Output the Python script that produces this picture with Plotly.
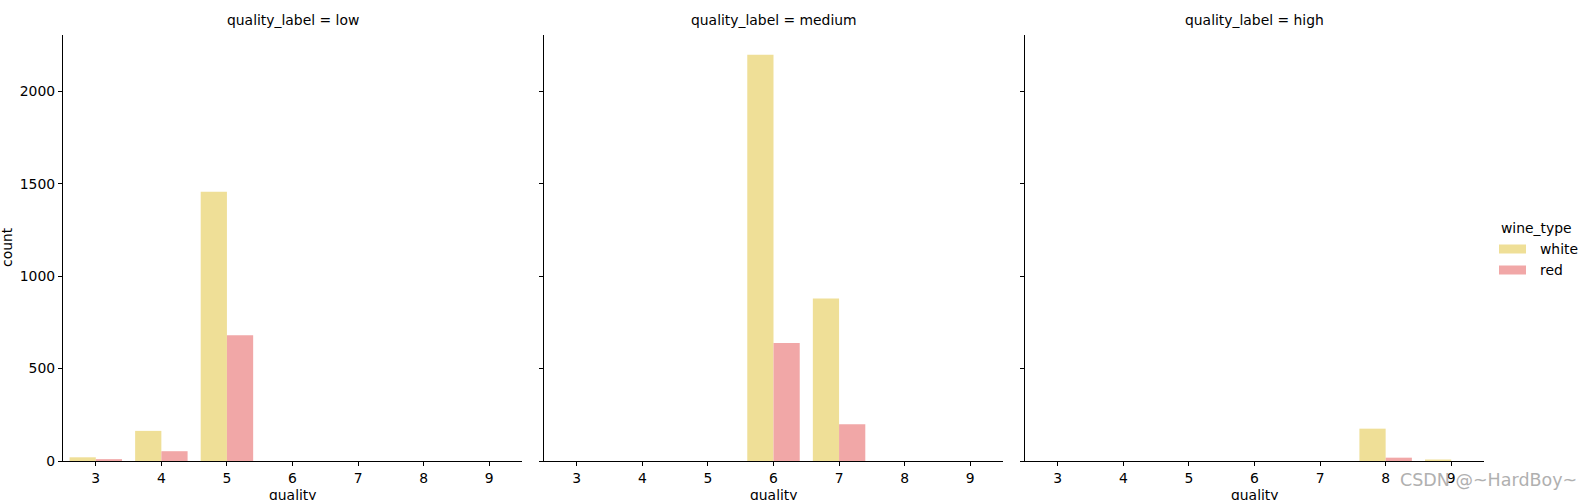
import plotly.graph_objects as go

qualities = ["3", "4", "5", "6", "7", "8", "9"]
panels = ["low", "medium", "high"]
wine_types = ["white", "red"]

# counts per panel for each wine type, ordered as qualities
white_low = [20, 163, 1457, 0, 0, 0, 0]
red_low = [10, 53, 681, 0, 0, 0, 0]
white_medium = [0, 0, 0, 2198, 880, 0, 0]
red_medium = [0, 0, 0, 638, 199, 0, 0]
white_high = [0, 0, 0, 0, 0, 175, 5]
red_high = [0, 0, 0, 0, 0, 18, 0]

yticks = [0, 500, 1000, 1500, 2000]

colors = {"white": "#EFDF97", "red": "#F1A7A7"}
data = {
    "low": {"white": white_low, "red": red_low},
    "medium": {"white": white_medium, "red": red_medium},
    "high": {"white": white_high, "red": red_high},
}

W, H = 1588, 500


def px(x):
    return x / W


def py(y):
    return 1 - y / H


xdoms = [(63, 522), (544, 1003), (1025, 1484)]
ytop, ybot = 34.5, 461
ymax = max(white_medium) * 1.05

fig = go.Figure()
font = dict(family="DejaVu Sans", size=13.9, color="black")

for i, p in enumerate(panels):
    ax = "" if i == 0 else str(i + 1)
    for wt in wine_types:
        fig.add_trace(go.Bar(
            x=qualities, y=data[p][wt], name=wt,
            marker=dict(color=colors[wt], line=dict(width=0)),
            xaxis="x" + ax, yaxis="y" + ax,
            offsetgroup=wt, legendgroup=wt, showlegend=False,
        ))
    x0, x1 = xdoms[i]
    fig.update_layout(**{
        "xaxis" + ax: dict(
            domain=[px(x0), px(x1)], anchor="y" + ax, type="category",
            categoryorder="array", categoryarray=qualities,
            range=[-0.5, 6.5], showline=True, linecolor="black", linewidth=1.2,
            ticks="outside", ticklen=4, tickcolor="black", showgrid=False,
            zeroline=False, tickfont=font, automargin=False,
        ),
        "yaxis" + ax: dict(
            domain=[py(ybot), py(ytop)], anchor="x" + ax,
            range=[0, ymax], tickvals=yticks, showline=True, linecolor="black",
            linewidth=1.2, ticks="outside", ticklen=4, tickcolor="black",
            showgrid=False, zeroline=False, showticklabels=(i == 0), tickfont=font,
            automargin=False,
        ),
    })
    xc = px((x0 + x1) / 2)
    fig.add_annotation(text="quality_label = " + p, x=xc, y=py(20),
                       xref="paper", yref="paper", showarrow=False, font=font,
                       xanchor="center", yanchor="middle")
    fig.add_annotation(text="quality", x=xc, y=py(495),
                       xref="paper", yref="paper", showarrow=False, font=font,
                       xanchor="center", yanchor="middle")

fig.add_annotation(text="count", x=px(7), y=py(247), xref="paper", yref="paper",
                   showarrow=False, font=font, textangle=-90,
                   xanchor="center", yanchor="middle")

# legend (drawn manually to match the patch style)
fig.add_annotation(text="wine_type", x=px(1536), y=py(228), xref="paper", yref="paper",
                   showarrow=False, font=font, xanchor="center", yanchor="middle")
for k, wt in enumerate(wine_types):
    yc = 249 + k * 21
    fig.add_shape(type="rect", xref="paper", yref="paper",
                  x0=px(1499), x1=px(1526), y0=py(yc - 4.5), y1=py(yc + 4.5),
                  fillcolor=colors[wt], line=dict(width=0))
    fig.add_annotation(text=wt, x=px(1538), y=py(yc), xref="paper", yref="paper",
                       showarrow=False, font=font, xanchor="left", yanchor="middle")

fig.add_annotation(text="CSDN @~HardBoy~", x=px(1488), y=py(480),
                   xref="paper", yref="paper", showarrow=False,
                   font=dict(family="DejaVu Sans", size=17.5, color="#b0b0b0"),
                   xanchor="center", yanchor="middle")

fig.update_layout(
    width=W, height=H, margin=dict(l=0, r=0, t=0, b=0, autoexpand=False),
    paper_bgcolor="white", plot_bgcolor="white",
    barmode="group", bargap=0.2, bargroupgap=0,
    showlegend=False, hovermode=False,
)

fig.write_html("out.html", config={"displayModeBar": False},
               post_script="document.body.style.margin='0';document.body.style.overflow='hidden';")
